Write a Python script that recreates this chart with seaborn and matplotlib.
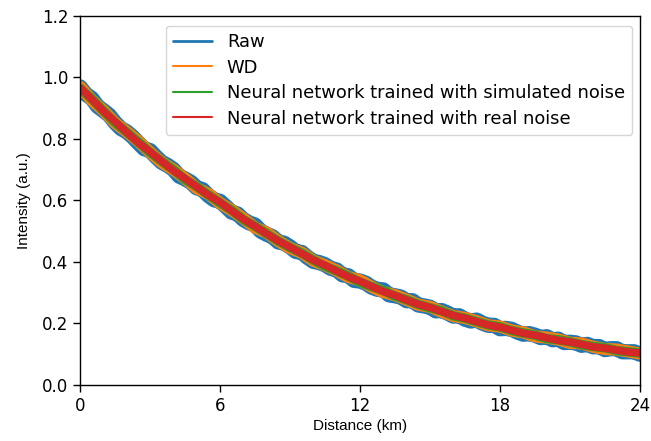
"""
Intensity vs. distance trace: raw signal and three denoised versions
"""

import matplotlib
matplotlib.use("Agg")
import matplotlib.pyplot as plt
import numpy as np
import pandas as pd
import seaborn as sns

# raw trace, read every 0.25 km
raw_km = np.arange(0, 24.01, 0.25)
raw = [
    0.969, 0.945, 0.932, 0.906, 0.892, 0.877, 0.853, 0.834, 0.823, 0.807,
    0.787, 0.768, 0.762, 0.742, 0.724, 0.714, 0.701, 0.679, 0.670, 0.659,
    0.641, 0.635, 0.616, 0.602, 0.597, 0.580, 0.562, 0.556, 0.538, 0.527,
    0.520, 0.500, 0.490, 0.482, 0.465, 0.461, 0.449, 0.434, 0.431, 0.415,
    0.402, 0.398, 0.391, 0.379, 0.374, 0.358, 0.355, 0.340, 0.338, 0.331,
    0.318, 0.311, 0.309, 0.293, 0.290, 0.286, 0.274, 0.274, 0.260, 0.257,
    0.253, 0.241, 0.242, 0.234, 0.224, 0.225, 0.214, 0.208, 0.211, 0.201,
    0.194, 0.194, 0.183, 0.184, 0.181, 0.172, 0.165, 0.167, 0.162, 0.154,
    0.157, 0.147, 0.149, 0.138, 0.139, 0.137, 0.129, 0.132, 0.124, 0.125,
    0.115, 0.118, 0.118, 0.108, 0.108, 0.108, 0.100,
]

# denoised traces, read every 0.5 km
den_km = np.arange(0, 24.01, 0.5)
wd = [
    0.969, 0.926, 0.892, 0.852, 0.823, 0.792, 0.756, 0.724, 0.700, 0.671,
    0.640, 0.621, 0.591, 0.568, 0.541, 0.512, 0.495, 0.468, 0.445, 0.430,
    0.404, 0.389, 0.372, 0.351, 0.340, 0.319, 0.302, 0.292, 0.277, 0.261,
    0.254, 0.238, 0.224, 0.218, 0.207, 0.194, 0.190, 0.177, 0.171, 0.158,
    0.154, 0.148, 0.137, 0.135, 0.124, 0.117, 0.115, 0.109, 0.102,
]
nn_sim = [
    0.965, 0.930, 0.891, 0.853, 0.822, 0.790, 0.756, 0.727, 0.700, 0.668,
    0.645, 0.618, 0.592, 0.568, 0.538, 0.516, 0.492, 0.468, 0.447, 0.429,
    0.406, 0.386, 0.371, 0.354, 0.334, 0.320, 0.307, 0.289, 0.277, 0.262,
    0.251, 0.241, 0.225, 0.217, 0.206, 0.195, 0.189, 0.177, 0.169, 0.162,
    0.151, 0.147, 0.140, 0.131, 0.125, 0.121, 0.112, 0.108, 0.104,
]
nn_real = [
    0.966, 0.929, 0.890, 0.856, 0.821, 0.787, 0.758, 0.727, 0.697, 0.671,
    0.644, 0.617, 0.594, 0.566, 0.539, 0.516, 0.491, 0.468, 0.448, 0.427,
    0.406, 0.389, 0.370, 0.352, 0.337, 0.320, 0.304, 0.291, 0.276, 0.262,
    0.252, 0.239, 0.226, 0.217, 0.206, 0.195, 0.188, 0.178, 0.168, 0.162,
    0.153, 0.145, 0.140, 0.132, 0.124, 0.120, 0.113, 0.107, 0.104,
]

labels = [
    "Raw",
    "WD",
    "Neural network trained with simulated noise",
    "Neural network trained with real noise",
]
colors = ["#1f77b4", "#ff7f0e", "#2ca02c", "#d62728"]

sns.set_style("ticks", rc={
    "text.color": "black",
    "axes.labelcolor": "black",
    "xtick.color": "black",
    "ytick.color": "black",
    "axes.edgecolor": "black",
})
plt.rcParams["font.family"] = ["DejaVu Sans"]

fig = plt.figure(figsize=(6.51, 4.41), dpi=100)
ax = fig.add_axes([0.123, 0.127, 0.860, 0.837])

df_raw = pd.DataFrame({"km": raw_km, "val": raw})
sns.lineplot(data=df_raw, x="km", y="val", ax=ax, color=colors[0],
             linewidth=11, label=labels[0])

for vals, lab, col, lw in zip([wd, nn_sim, nn_real], labels[1:], colors[1:],
                              [8.8, 6.8, 5.5]):
    df = pd.DataFrame({"km": den_km, "val": vals})
    sns.lineplot(data=df, x="km", y="val", ax=ax, color=col, linewidth=lw,
                 label=lab)

ax.set_xlim(0, 24)
ax.set_ylim(0, 1.2)
ax.set_xticks([0, 6, 12, 18, 24])
ax.set_yticks([0.0, 0.2, 0.4, 0.6, 0.8, 1.0, 1.2])
ax.yaxis.set_major_formatter(matplotlib.ticker.FormatStrFormatter("%.1f"))
ax.tick_params(labelsize=12, length=5, width=1)
for sp in ax.spines.values():
    sp.set_visible(True)
    sp.set_linewidth(1.0)

label_font = ["Liberation Sans Narrow", "Liberation Sans"]
ax.set_xlabel("Distance (km)", fontsize=11, family=label_font, labelpad=3)
ax.set_ylabel("Intensity (a.u.)", fontsize=11, family=label_font, labelpad=8)

leg = ax.legend(loc="upper right", bbox_to_anchor=(0.986, 0.973),
                borderaxespad=0, fontsize=12.9, frameon=True,
                handlelength=2.2, labelspacing=0.42)
for i, line in enumerate(leg.get_lines()):
    line.set_linewidth(2.0 if i == 0 else 1.5)

plt.savefig("out.png", dpi=100)
